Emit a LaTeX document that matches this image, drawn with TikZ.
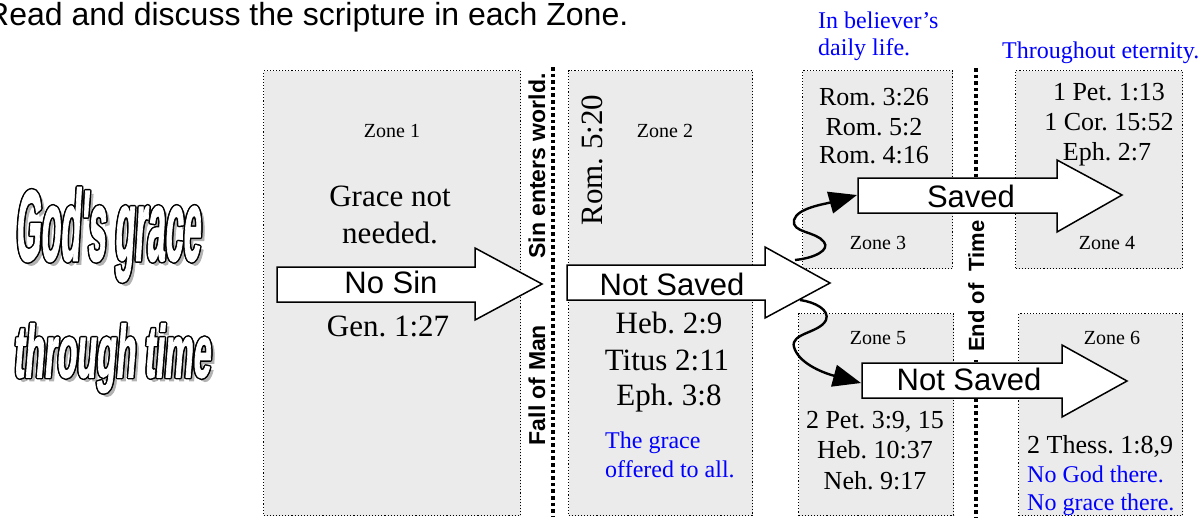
\documentclass[tikz,border=0pt]{standalone}
\usepackage{graphicx}
\usepackage{fontspec}
\setmainfont{Liberation Serif}
\newfontfamily\arialf{Liberation Sans}
\newfontfamily\godfont[FakeSlant=0.18,FakeBold=2]{Liberation Sans}
\usetikzlibrary{arrows.meta}
\definecolor{zonefill}{gray}{0.92}
\definecolor{bluet}{RGB}{0,0,255}
\frenchspacing
\newcommand\fs[1]{\fontsize{#1}{#1}\selectfont}
\newcommand\wordart[3]{%
 \def\wa{\resizebox*{#1}{#2}{\godfont\bfseries #3}}%
 \leavevmode
 \rlap{\kern3.5pt\raisebox{-3.5pt}{\color{gray!60}\wa}}%
 \rlap{\kern-1.5pt\wa}\rlap{\kern1.5pt\wa}%
 \rlap{\raisebox{1.5pt}{\wa}}\rlap{\raisebox{-1.5pt}{\wa}}%
 \rlap{\kern-1.05pt\raisebox{1.05pt}{\wa}}\rlap{\kern1.05pt\raisebox{1.05pt}{\wa}}%
 \rlap{\kern-1.05pt\raisebox{-1.05pt}{\wa}}\rlap{\kern1.05pt\raisebox{-1.05pt}{\wa}}%
 {\color{white}\wa}}
\tikzset{
 zone/.style={draw, line width=1.1pt, dash pattern=on 1.1pt off 2pt, fill=zonefill, anchor=north west, inner sep=0pt},
 sep/.style={line width=3.6pt, dash pattern=on 3.6pt off 3pt},
 bigarrow/.style={draw, fill=white, line width=1.5pt, line join=miter},
 wave/.style={line width=2.4pt, -{Triangle[length=28pt,width=22pt]}},
 arrtext/.style={anchor=base, inner sep=0pt, font=\arialf\fs{31}},
 rotlab/.style={anchor=base, inner sep=0pt, rotate=90, font=\arialf\bfseries\fs{23}},
 zlab/.style={anchor=base, inner sep=0pt, font=\fs{20}},
 bigref/.style={anchor=base, inner sep=0pt, font=\fs{31}},
 ref/.style={anchor=base, inner sep=0pt, font=\fs{26}},
 note/.style={anchor=base west, inner sep=0pt, font=\fs{24}, text=bluet},
}
\begin{document}
\begin{tikzpicture}[x=1pt,y=-1pt]
\useasboundingbox (0,0) rectangle (1202,517);

% title
\node[anchor=base west, inner sep=0pt, font=\arialf\fs{32}] (title) at (-14,25) {Read and discuss the scripture in each Zone.};

% word art
\node[anchor=north west, inner sep=0pt] (ga) at (15,186) {\wordart{185pt}{94pt}{God's grace}};
\node[anchor=north west, inner sep=0pt] (gb) at (13,322) {\wordart{197pt}{69pt}{through time}};

% zones
\node[zone, minimum width=257pt, minimum height=445pt] (z1) at (263,70) {};
\node[zone, minimum width=184pt, minimum height=445pt] (z2) at (568,70) {};
\node[zone, minimum width=150pt, minimum height=198pt] (z3) at (802,70) {};
\node[zone, minimum width=167pt, minimum height=198pt] (z4) at (1015,70) {};
\node[zone, minimum width=155pt, minimum height=202pt] (z5) at (798,313) {};
\node[zone, minimum width=164pt, minimum height=202pt] (z6) at (1018,313) {};

% separators
\coordinate (s1t) at (553,67);
\coordinate (s1b) at (553,517);
\coordinate (s2t) at (976,68);
\coordinate (s2b) at (976,517);
\draw[sep] (s1t) -- (s1b);
\draw[sep] (s2t) -- (s2b);

\node[rotlab] (sin) at (545,166) {Sin enters world.};
\node[rotlab] (fall) at (545,385) {Fall of Man};
\node[rotlab, fill=white, inner xsep=8pt, inner ysep=2pt, font=\arialf\bfseries\fs{22}] (eot) at (984,286) {End of\hspace{6pt} Time};

% zone 1 text
\node[zlab] (l1) at (392,137) {Zone 1};
\node[bigref] (g1) at (390,206) {Grace not};
\node[bigref] (g2) at (390,243) {needed.};
\node[bigref] (g3) at (388,336) {Gen. 1:27};

% zone 2 text
\node[zlab] (l2) at (665,137) {Zone 2};
\node[bigref, rotate=90] (r520) at (602,160) {Rom. 5:20};
\node[bigref] (h29) at (669,333) {Heb. 2:9};
\node[bigref] (t211) at (667,370) {Titus 2:11};
\node[bigref] (e38) at (669,405) {Eph. 3:8};
\node[note] (n21) at (605,448) {The grace};
\node[note] (n22) at (605,477) {offered to all.};

% zone 3
\node[note] (n31) at (818,28) {In believer’s};
\node[note] (n32) at (818,55) {daily life.};
\node[ref] (r326) at (874,105) {Rom. 3:26};
\node[ref] (r52) at (874,135) {Rom. 5:2};
\node[ref] (r416) at (874,163) {Rom. 4:16};
\node[zlab] (l3) at (878,249) {Zone 3};

% zone 4
\node[note] (n41) at (1002,58) {Throughout eternity.};
\node[ref] (p113) at (1109,100) {1 Pet. 1:13};
\node[ref] (c1552) at (1109,130) {1 Cor. 15:52};
\node[ref] (e27) at (1107,160) {Eph. 2:7};
\node[zlab] (l4) at (1107,249) {Zone 4};

% zone 5
\node[zlab] (l5) at (878,344) {Zone 5};
\node[ref] (p39) at (875,428) {2 Pet. 3:9, 15};
\node[ref] (h1037) at (875,458) {Heb. 10:37};
\node[ref] (n917) at (875,489) {Neh. 9:17};

% zone 6
\node[zlab] (l6) at (1112,344) {Zone 6};
\node[ref, anchor=base west] (t189) at (1027,453) {2 Thess. 1:8,9};
\node[note] (n61) at (1027,482) {No God there.};
\node[note] (n62) at (1027,510) {No grace there.};

% big arrows
\draw[bigarrow] (277,267) -- (475,267) -- (475,248) -- (542,284) -- (475,320) -- (475,302) -- (277,302) -- cycle;
\node[arrtext] (a1) at (391,293) {No Sin};
\draw[bigarrow] (567,265) -- (765,265) -- (765,247) -- (830,283) -- (765,318) -- (765,300) -- (567,300) -- cycle;
\node[arrtext] (a2) at (672,295) {Not Saved};
\draw[bigarrow] (858,178) -- (1057,178) -- (1057,160) -- (1122,195) -- (1057,232) -- (1057,213) -- (858,213) -- cycle;
\node[arrtext] (a3) at (971,207) {Saved};
\draw[bigarrow] (862,363) -- (1062,363) -- (1062,345) -- (1127,381) -- (1062,417) -- (1062,398) -- (862,398) -- cycle;
\node[arrtext] (a4) at (969,390) {Not Saved};

% wavy arrows
\coordinate (w1s) at (795,260);
\coordinate (w1e) at (857,195);
\coordinate (w2s) at (800,300);
\coordinate (w2e) at (861,383);
\draw[wave] (w1s) .. controls (815,258) and (830,250) .. (824,242) .. controls (816,231) and (791,233) .. (794,220) .. controls (797,208) and (825,204) .. (w1e);
\draw[wave] (w2s) .. controls (815,302) and (830,310) .. (826,320) .. controls (820,333) and (790,333) .. (794,347) .. controls (798,362) and (820,372) .. (w2e);
\end{tikzpicture}
\end{document}
